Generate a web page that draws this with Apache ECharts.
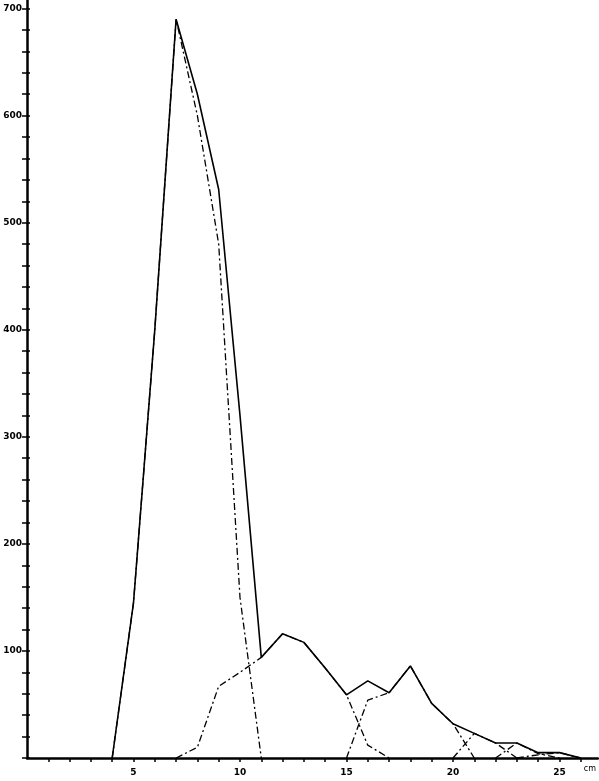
<!DOCTYPE html>
<html>
<head>
<meta charset="utf-8">
<script src="https://cdn.jsdelivr.net/npm/echarts@6/dist/echarts.min.js"></script>
<style>html,body{margin:0;padding:0;background:#fff;}#c{width:599px;height:781px;}</style>
</head>
<body>
<div id="c"></div>
<script>
// cm positions 0..26
var cm = [0,1,2,3,4,5,6,7,8,9,10,11,12,13,14,15,16,17,18,19,20,21,22,23,24,25,26];
var total = [null,null,null,null,0,145,400,690,620,531,320,94,116,108,84,59,72,61,86,51,32,23,14,14,5,5,0];
var compA = [null,null,null,null,0,145,400,690,600,480,150,0,null,null,null,null,null,null,null,null,null,null,null,null,null,null,null];
var compB = [null,null,null,null,null,null,null,0,10,67,80,94,116,108,84,59,12,0,null,null,null,null,null,null,null,null,null];
var compC = [null,null,null,null,null,null,null,null,null,null,null,null,null,null,null,0,54,61,86,51,32,0,null,null,null,null,null];
var compD = [null,null,null,null,null,null,null,null,null,null,null,null,null,null,null,null,null,null,null,null,0,23,14,0,null,null,null];
var compE = [null,null,null,null,null,null,null,null,null,null,null,null,null,null,null,null,null,null,null,null,null,null,0,14,4,0,null];
var compF = [null,null,null,null,null,null,null,null,null,null,null,null,null,null,null,null,null,null,null,null,null,null,null,0,3,5,0];
var yLabels = [100,200,300,400,500,600,700];
var xLabels = [5,10,15,20,25];

var yTicks = [];
for (var v = 0; v <= 700; v += 20) yTicks.push(v);
var xTicks = cm.slice(1);

function pairs(vals){ return cm.map(function(x,i){ return [x, vals[i]]; }); }
var dashDot = [7,3,2,3];
function comp(vals){
  return {type:'line', data:pairs(vals), symbol:'none', connectNulls:false,
    lineStyle:{color:'#000', width:1.3, type:dashDot}, z:2, silent:true};
}
var labelFont = {fontFamily:'DejaVu Sans', fontWeight:'bold', fontSize:9, color:'#000'};

var chart = echarts.init(document.getElementById('c'), null, {renderer:'canvas'});
chart.setOption({
  animation:false,
  backgroundColor:'#fff',
  grid:{left:27, right:0, top:0, bottom:23},
  xAxis:{type:'value', min:0, max:26.8,
    name:'cm', nameLocation:'end', nameGap:-14,
    nameTextStyle:{fontFamily:'DejaVu Sans', fontSize:8, color:'#000', verticalAlign:'top', padding:[7,0,0,0]},
    axisLine:{show:true, onZero:false, lineStyle:{color:'#000', width:2.5}},
    axisTick:{show:true, inside:false, length:4, customValues:xTicks, lineStyle:{color:'#000', width:1.5}},
    axisLabel:Object.assign({show:true, margin:10, customValues:xLabels}, labelFont),
    splitLine:{show:false}},
  yAxis:[
    {type:'value', min:0, max:708, position:'left',
      axisLine:{show:true, lineStyle:{color:'#000', width:2.5}},
      axisTick:{show:true, inside:false, length:5, customValues:yTicks, lineStyle:{color:'#000', width:1.5}},
      axisLabel:Object.assign({show:true, margin:5, customValues:yLabels}, labelFont),
      splitLine:{show:false}},
    {type:'value', min:0, max:708, position:'left',
      axisLine:{show:false},
      axisTick:{show:true, inside:true, length:3, customValues:yTicks, lineStyle:{color:'#000', width:1.5}},
      axisLabel:{show:false},
      splitLine:{show:false}}
  ],
  series:[
    {type:'line', data:pairs(total), symbol:'none', connectNulls:false,
      lineStyle:{color:'#000', width:1.6, type:'solid'}, z:3, silent:true},
    comp(compA), comp(compB), comp(compC), comp(compD), comp(compE), comp(compF)
  ]
});
</script>
</body>
</html>
